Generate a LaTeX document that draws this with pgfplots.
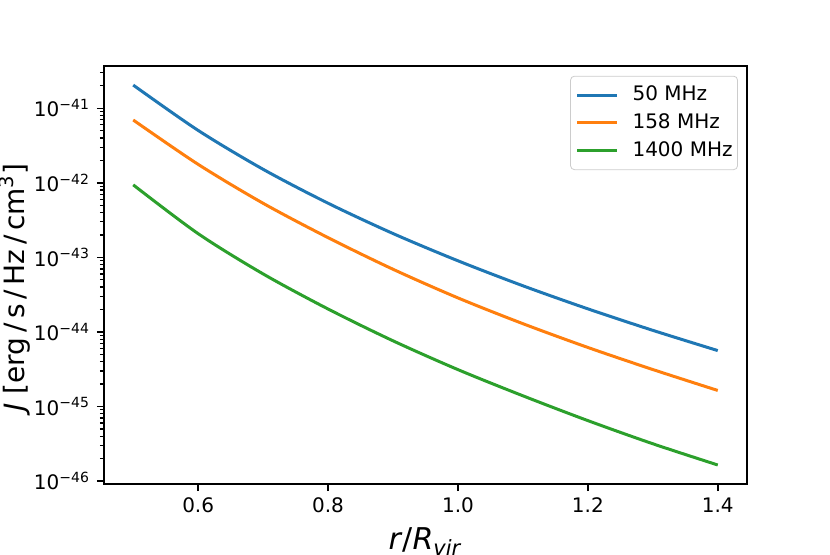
\documentclass[border=0pt]{standalone}
\usepackage{fontspec}
\setmainfont{DejaVu Sans}
\usepackage{pgfplots}
\pgfplotsset{compat=1.18}
\definecolor{tabblue}{HTML}{1F77B4}
\definecolor{taborange}{HTML}{FF7F0E}
\definecolor{tabgreen}{HTML}{2CA02C}

\begin{document}
\begin{tikzpicture}
% full figure canvas (axes sit inside with matplotlib-like margins)
\path[use as bounding box] (-52pt,-35pt) rectangle (363pt,242pt);
\begin{axis}[
  at={(0,0)}, anchor=south west,
  scale only axis, width=321.5pt, height=209pt,
  ymode=log,
  xmin=0.455, xmax=1.445, ymin=9.1e-47, ymax=3.69e-41,
  axis line style={line width=0.8pt},
  tick align=outside, tick pos=left,
  major tick length=3.5pt, minor tick length=2pt,
  major tick style={black, line width=0.8pt},
  minor tick style={black, line width=0.6pt},
  xtick={0.6,0.8,1.0,1.2,1.4},
  xticklabel style={/pgf/number format/fixed, /pgf/number format/precision=1,
    /pgf/number format/fixed zerofill},
  /pgf/number format/assume math mode=true,
  ytick={1e-46,1e-45,1e-44,1e-43,1e-42,1e-41},
  yticklabels={10\textsuperscript{−46},10\textsuperscript{−45},10\textsuperscript{−44},
    10\textsuperscript{−43},10\textsuperscript{−42},10\textsuperscript{−41}},
  minor ytick={2e-46,3e-46,4e-46,5e-46,6e-46,7e-46,8e-46,9e-46,
    2e-45,3e-45,4e-45,5e-45,6e-45,7e-45,8e-45,9e-45,
    2e-44,3e-44,4e-44,5e-44,6e-44,7e-44,8e-44,9e-44,
    2e-43,3e-43,4e-43,5e-43,6e-43,7e-43,8e-43,9e-43,
    2e-42,3e-42,4e-42,5e-42,6e-42,7e-42,8e-42,9e-42,
    2e-41,3e-41},
  tick label style={font=\fontsize{10}{12}\selectfont},
  xlabel style={font=\fontsize{15}{18}\selectfont,
    at={(axis description cs:0.5,-0.088)}, anchor=north},
  ylabel style={font=\fontsize{14}{17}\selectfont,
    at={(axis description cs:-0.139,0.47)}, anchor=center},
  xlabel={\textit{r}/\textit{R}\textsubscript{\textit{vir}}},
  ylabel={\textit{J} [erg\,/\,s\,/\,Hz\,/\,cm\textsuperscript{3}]},
  legend style={at={(1,1)}, anchor=north east, xshift=-4.5pt, yshift=-4.85pt,
    draw=black!20, rounded corners=2pt, fill=white,
    font=\fontsize{10}{12}\selectfont, inner xsep=0.5pt, inner ysep=3pt,
    row sep=1pt, cells={anchor=west}},
  legend image code/.code={\draw[#1,overlay] (-5pt,0pt) -- (15pt,0pt); \path (-7pt,0pt) (20pt,0pt);},
]
\addplot[tabblue, line width=1.5pt, smooth] coordinates {
  (0.5,2.05e-41) (0.6,5.05e-42) (0.7,1.52e-42) (0.8,5.33e-43) (0.9,2.09e-43)
  (1.0,9.00e-44) (1.1,4.16e-44) (1.2,2.04e-44) (1.3,1.05e-44) (1.4,5.62e-45)};
\addlegendentry{50 MHz}
\addplot[taborange, line width=1.5pt, smooth] coordinates {
  (0.5,6.97e-42) (0.6,1.77e-42) (0.7,5.32e-43) (0.8,1.84e-43) (0.9,6.93e-44)
  (1.0,2.86e-44) (1.1,1.29e-44) (1.2,6.19e-45) (1.3,3.13e-45) (1.4,1.64e-45)};
\addlegendentry{158 MHz}
\addplot[tabgreen, line width=1.5pt, smooth] coordinates {
  (0.5,9.40e-43) (0.6,2.08e-43) (0.7,6.00e-44) (0.8,2.03e-44) (0.9,7.60e-45)
  (1.0,3.12e-45) (1.1,1.39e-45) (1.2,6.46e-46) (1.3,3.16e-46) (1.4,1.64e-46)};
\addlegendentry{1400 MHz}
\end{axis}
\end{tikzpicture}
\end{document}
